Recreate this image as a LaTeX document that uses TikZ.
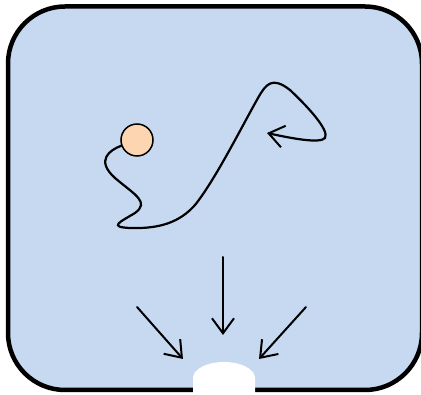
\documentclass[tikz,border=0pt]{standalone}
\usepackage{tikz}
\usetikzlibrary{arrows.meta}
\definecolor{box-fill}{HTML}{C6D9F1}
\definecolor{ball-fill}{HTML}{FDD5B1}
\tikzset{
  barb/.style={line width=2pt, line cap=round, -{Straight Barb[length=15pt, width=22pt, line width=2pt]}},
  pull/.style={barb, line width=2.2pt}
}
\begin{document}
\begin{tikzpicture}[x=1pt, y=-1pt]
    \useasboundingbox (0,0) rectangle (421,395);
    % ── chamber
    \draw[line width=4.5pt, fill=box-fill, rounded corners=57pt] (8,6.5) rectangle (422,390);
    % ── exit
    \fill[white] (193,396) -- (193,378) arc[start angle=180, end angle=360, x radius=31, y radius=16] -- (255,396) -- cycle;
    % ── ball and its path
    \node[circle, draw, line width=1.5pt, fill=ball-fill, minimum size=32pt, inner sep=0pt] (ball) at (137,140) {};
    \draw[pull] (ball.200) .. controls (110,150) and (95,160) .. (115,178)
      .. controls (135,195) and (150,202) .. (135,213)
      .. controls (120,222) and (108,227) .. (130,228)
      .. controls (160,229) and (180,222) .. (195,205)
      .. controls (215,180) and (240,130) .. (258,98)
      .. controls (266,84) and (272,76) .. (290,90)
      .. controls (305,104) and (330,130) .. (325,138)
      .. controls (320,144) and (290,138) .. (267,133);
    % ── arrows to the exit
    \coordinate (mid-top) at (223,257);
    \coordinate (mid-tip) at (223,335);
    \coordinate (left-top) at (137,307);
    \coordinate (left-tip) at (183,359);
    \coordinate (right-top) at (306,307);
    \coordinate (right-tip) at (259,359);
    \draw[barb] (mid-top) -- (mid-tip);
    \draw[barb] (left-top) -- (left-tip);
    \draw[barb] (right-top) -- (right-tip);
\end{tikzpicture}
\end{document}
